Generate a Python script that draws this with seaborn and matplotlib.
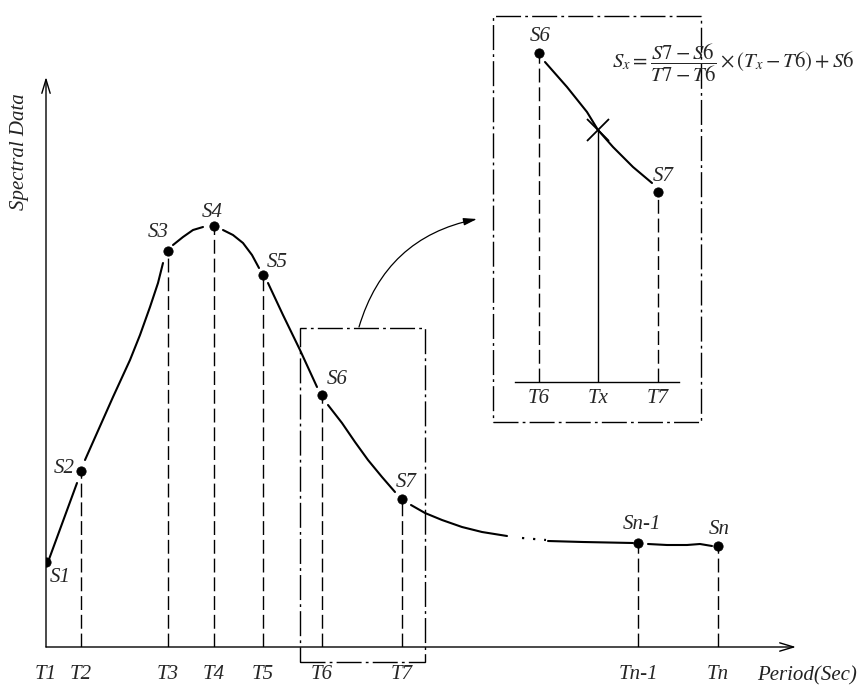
import numpy as np
import pandas as pd
import seaborn as sns
import matplotlib.pyplot as plt
from matplotlib.patches import Rectangle

# values (pixel-scale schematic units)
period_labels = ["T1", "T2", "T3", "T4", "T5", "T6", "T7", "Tn-1", "Tn"]
spectral_labels = ["S1", "S2", "S3", "S4", "S5", "S6", "S7", "Sn-1", "Sn"]
period = [0, 35, 122, 168, 217, 276, 356, 592, 672]
spectral = [85, 176, 396, 421, 372, 252, 148, 104, 101]

# points, in pieces between the dots
curve_seg = [1, 1,
             2, 2, 2, 2, 2, 2, 2, 2,
             3, 3, 3, 3,
             4, 4, 4, 4, 4,
             5, 5, 5, 5,
             6, 6, 6, 6, 6, 6,
             7, 7, 7, 7, 7, 7,
             8, 8, 8,
             9, 9, 9, 9, 9]
curve_x = [2, 31,
           39, 51, 67, 84, 94, 104, 112, 117,
           127, 137, 147, 157,
           177, 187, 197, 206, 213,
           222, 237, 254, 271,
           282, 296, 309, 322, 336, 349,
           365, 379, 396, 416, 436, 461,
           502, 537, 587,
           602, 621, 641, 654, 666]
curve_y = [85, 164,
           187, 214, 250, 287, 312, 340, 364, 384,
           402, 410, 417, 420,
           417, 412, 404, 392, 379,
           364, 332, 297, 260,
           242, 224, 205, 187, 170, 155,
           142, 134, 127, 120, 115, 111,
           106, 105, 104,
           103, 102, 102, 103, 101]
dots_x = [476, 500]
dots_y = [109, 107]

# zoomed inset between T6 and T7
inset_labels = ["T6", "Tx", "T7"]
inset_period = [24, 83, 143]
inset_point_labels = ["S6", "S7"]
inset_point_x = [24, 143]
inset_point_y = [329, 190]
inset_sx = 252
inset_curve_x = [30, 52, 72, 83, 98, 118, 137]
inset_curve_y = [320, 295, 270, 252, 235, 215, 199]

formula = r"$S_x=\dfrac{S7-S6}{T7-T6}\times(T_x-T6)+S6$"

sns.set_style("white")
plt.rcParams["font.family"] = ["Liberation Serif", "DejaVu Serif"]
plt.rcParams["mathtext.fontset"] = "stix"

W, H = 868, 690
fig = plt.figure(figsize=(W / 100, H / 100), dpi=100)
dashdot = (0, (18, 3, 2, 3))
dashed = (0, (10, 3.5))
arrow_kw = dict(arrowstyle="->,head_length=1.0,head_width=0.3", lw=1, color="black",
                shrinkA=0, shrinkB=0)

# ---- main chart ----
ax = fig.add_axes([46 / W, 43 / H, 750 / W, 570 / H])
ax.set_xlim(0, 750)
ax.set_ylim(0, 570)
for sp in ax.spines.values():
    sp.set_visible(False)
ax.annotate("", xy=(1, 0), xytext=(0, 0), xycoords="axes fraction", arrowprops=arrow_kw)
ax.annotate("", xy=(0, 1), xytext=(0, 0), xycoords="axes fraction", arrowprops=arrow_kw)

curve = pd.DataFrame({"x": curve_x, "y": curve_y, "seg": curve_seg})
sns.lineplot(data=curve, x="x", y="y", units="seg", estimator=None, sort=False,
             color="black", lw=1.5, solid_joinstyle="round", solid_capstyle="round", ax=ax)
sns.lineplot(x=dots_x, y=dots_y, color="black", lw=1.6, linestyle=(0, (1, 4)),
             estimator=None, sort=False, ax=ax)

ax.vlines(period[1:], 0, spectral[1:], colors="black", lw=1, linestyles=dashed)
sns.scatterplot(x=period, y=spectral, s=45, color="black", edgecolor="black",
                zorder=5, ax=ax, legend=False)

offsets = [(10, -11), (-12, 2), (-7, 13), (-1, 10), (10, 9), (11, 11), (3, 12), (3, 13), (1, 12)]
for lab, x, y, off in zip(spectral_labels, period, spectral, offsets):
    ax.annotate(lab, (x, y), xytext=off, textcoords="offset points", ha="center",
                va="center", fontsize=15, style="italic")

ax.set_xticks(period, period_labels)
ax.set_yticks([])
ax.tick_params(axis="x", length=0, pad=13, labelsize=15)
for t in ax.get_xticklabels():
    t.set_fontstyle("italic")
ax.set_xlabel("")
ax.set_ylabel("")

ax.annotate("Period(Sec)", xy=(1, 0), xycoords="axes fraction", xytext=(-28, -21),
            textcoords="offset points", ha="left", va="center", fontsize=15,
            style="italic", color="#222222", annotation_clip=False)
ax.annotate("Spectral Data", xy=(0, 1), xycoords="axes fraction", xytext=(-19, -54),
            textcoords="offset points", rotation=90, ha="center", va="center",
            fontsize=15, style="italic", color="#222222", annotation_clip=False)

# zoom window around T6..T7
ax.add_patch(Rectangle((254, -15), 125, 334, fill=False, lw=1, ls=dashdot,
                       ec="black", clip_on=False))

# curved pointer to the inset
ax.annotate("", xy=(477 / W, 1 - 219 / H), xytext=(359 / W, 1 - 327 / H),
            xycoords="figure fraction",
            arrowprops=dict(arrowstyle="-|>,head_length=0.8,head_width=0.22", lw=0.9,
                            color="black", shrinkA=0, shrinkB=0,
                            connectionstyle="arc3,rad=-0.3"),
            annotation_clip=False)

# ---- inset ----
axin = fig.add_axes([515 / W, (H - 382) / H, 164 / W, 366 / H])
axin.set_xlim(0, 164)
axin.set_ylim(0, 366)
axin.patch.set_alpha(0)
for k, sp in axin.spines.items():
    sp.set_visible(k == "bottom")
axin.spines["bottom"].set_linewidth(1)
axin.spines["bottom"].set_color("black")

sns.lineplot(x=inset_curve_x, y=inset_curve_y, color="black", lw=1.5,
             solid_joinstyle="round", estimator=None, sort=False, ax=axin)
axin.vlines(inset_point_x, 0, inset_point_y, colors="black", lw=1, linestyles=dashed)
axin.vlines([inset_period[1]], 0, inset_sx, colors="black", lw=1)
sns.scatterplot(x=inset_point_x, y=inset_point_y, s=45, color="black", edgecolor="black",
                zorder=5, ax=axin, legend=False)
axin.plot([inset_period[1]], [inset_sx], marker="x", ms=16, mew=1.3, color="black")
for lab, x, y, off in zip(inset_point_labels, inset_point_x, inset_point_y, [(1, 12), (4, 11)]):
    axin.annotate(lab, (x, y), xytext=off, textcoords="offset points", ha="center",
                  va="center", fontsize=15, style="italic")

axin.set_xticks(inset_period, inset_labels)
axin.set_yticks([])
axin.tick_params(axis="x", length=0, pad=5, labelsize=15)
for t in axin.get_xticklabels():
    t.set_fontstyle("italic")

axin.add_patch(Rectangle((-22, -40), 208, 406, fill=False, lw=1, ls=dashdot,
                         ec="black", clip_on=False))

fig.text(733 / W, 1 - 63 / H, formula, fontsize=15, ha="center", va="center")

fig.savefig("out.png", dpi=100, facecolor="white")
